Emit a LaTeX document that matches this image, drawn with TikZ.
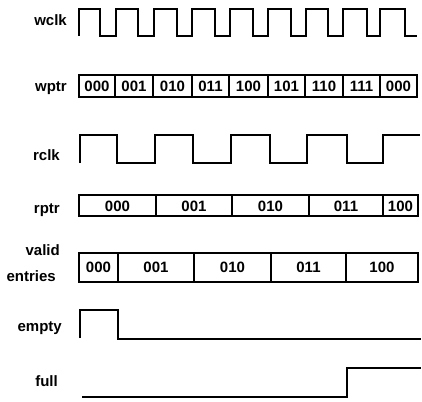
\documentclass[tikz,border=0pt]{standalone}
\usepackage{fontspec}
\setmainfont{Liberation Sans}
\begin{document}
\begin{tikzpicture}[x=1pt,y=-1pt,
  wave/.style={line width=1.6pt, line join=miter},
  cell/.style={draw, line width=1.6pt},
  lab/.style={anchor=mid east, inner sep=0pt, font=\fontsize{15}{15}\selectfont\bfseries},
  val/.style={inner sep=0pt, font=\fontsize{15}{15}\selectfont\bfseries}]
\useasboundingbox (0,0) rectangle (422,401);
% labels
\node[lab] (lwclk) at (67,23) {wclk};
\node[lab] (lwptr) at (67,89) {wptr};
\node[lab] (lrclk) at (60,158) {rclk};
\node[lab] (lrptr) at (60,211) {rptr};
\node[lab] (lvalid) at (60,253) {valid};
\node[lab] (lentries) at (56,279) {entries};
\node[lab] (lempty) at (62,329) {empty};
\node[lab] (lfull) at (58,384) {full};
% wclk
\draw[wave] (79,36)--(79,9)--(100,9)--(100,36)--(116,36)--(116,9)--(138,9)--(138,36)
  --(154,36)--(154,9)--(177,9)--(177,36)--(192,36)--(192,9)--(215,9)--(215,36)
  --(230,36)--(230,9)--(253,9)--(253,36)--(268,36)--(268,9)--(291,9)--(291,36)
  --(306,36)--(306,9)--(328,9)--(328,36)--(343,36)--(343,9)--(367,9)--(367,36)
  --(380,36)--(380,9)--(405,9)--(405,36)--(417,36);
% wptr
\foreach \a/\b/\t [count=\i] in {79/115/000,115/153/001,153/192/010,192/229/011,229/268/100,268/305/101,305/343/110,343/380/111,380/417/000}{
  \draw[cell] (\a,75) rectangle (\b,97);
  \node[val] (wp\i) at ({(\a+\b)/2},86) {\t};
}
% rclk
\draw[wave] (80,163)--(80,135)--(117,135)--(117,163)--(155,163)--(155,135)--(193,135)--(193,163)
  --(231,163)--(231,135)--(270,135)--(270,163)--(307,163)--(307,135)--(347,135)--(347,163)
  --(383,163)--(383,135)--(420,135);
% rptr
\foreach \a/\b/\t [count=\i] in {79/156/000,156/232/001,232/309/010,309/383/011,383/418/100}{
  \draw[cell] (\a,195) rectangle (\b,216);
  \node[val] (rp\i) at ({(\a+\b)/2},206) {\t};
}
% valid entries
\foreach \a/\b/\t [count=\i] in {79/118/000,118/194/001,194/271/010,271/346/011,346/418/100}{
  \draw[cell] (\a,253) rectangle (\b,282);
  \node[val] (ve\i) at ({(\a+\b)/2},267) {\t};
}
% empty
\draw[wave] (80,338)--(80,310)--(118,310)--(118,339)--(421,339);
% full
\draw[wave] (82,397)--(347,397)--(347,368)--(421,368);
\end{tikzpicture}
\end{document}
